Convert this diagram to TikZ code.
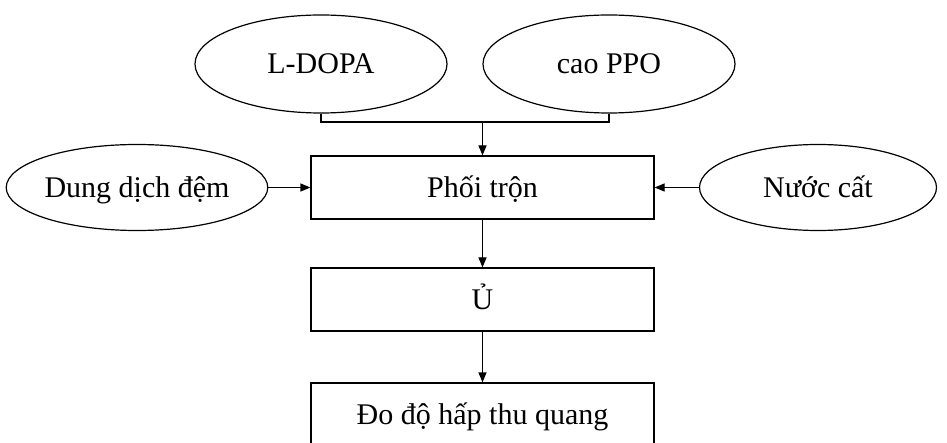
\documentclass[tikz,border=0pt]{standalone}
\usepackage{fontspec}
\setmainfont{Liberation Serif}
\usetikzlibrary{shapes.geometric,arrows.meta}
\begin{document}
\begin{tikzpicture}[x=1pt,y=1pt,
  line width=1.2pt,
  every node/.style={font=\fontsize{30}{36}\selectfont, text height=26pt, text depth=6pt},
  oval/.style={draw, ellipse, inner sep=0pt, minimum width=#1, minimum height=98pt},
  stage/.style={draw, rectangle, inner sep=0pt, minimum width=343pt, minimum height=63pt},
  flow/.style={-{Triangle[length=10pt,width=8pt]}}
]
\useasboundingbox (0,0) rectangle (947,-443);

% inputs
\node[oval=252pt] (ldopa) at (321,-64) {L-DOPA};
\node[oval=252pt] (ppo)   at (609,-64) {cao PPO};
\node[oval=253pt, minimum height=86pt] (dem) at (137,-187.5) {Dung dịch đệm};
\node[oval=237pt, minimum height=86pt] (nuoc) at (818,-187.5) {Nước cất};

% process steps
\node[stage] (mix)  at (482.5,-187.5) {Phối trộn};
\node[stage] (u)    at (482.5,-299.5) {Ủ};
\node[stage] (do)   at (482.5,-414.5) {Đo độ hấp thu quang};

% joining the two top inputs
\coordinate (join) at (482.5,-122);
\draw (ldopa.south) |- (join) -| (ppo.south);
\draw[flow] (join) -- (mix.north);

\draw[flow] (dem.east) -- (mix.west);
\draw[flow] (nuoc.west) -- (mix.east);
\draw[flow] (mix.south) -- (u.north);
\draw[flow] (u.south) -- (do.north);
\end{tikzpicture}
\end{document}
